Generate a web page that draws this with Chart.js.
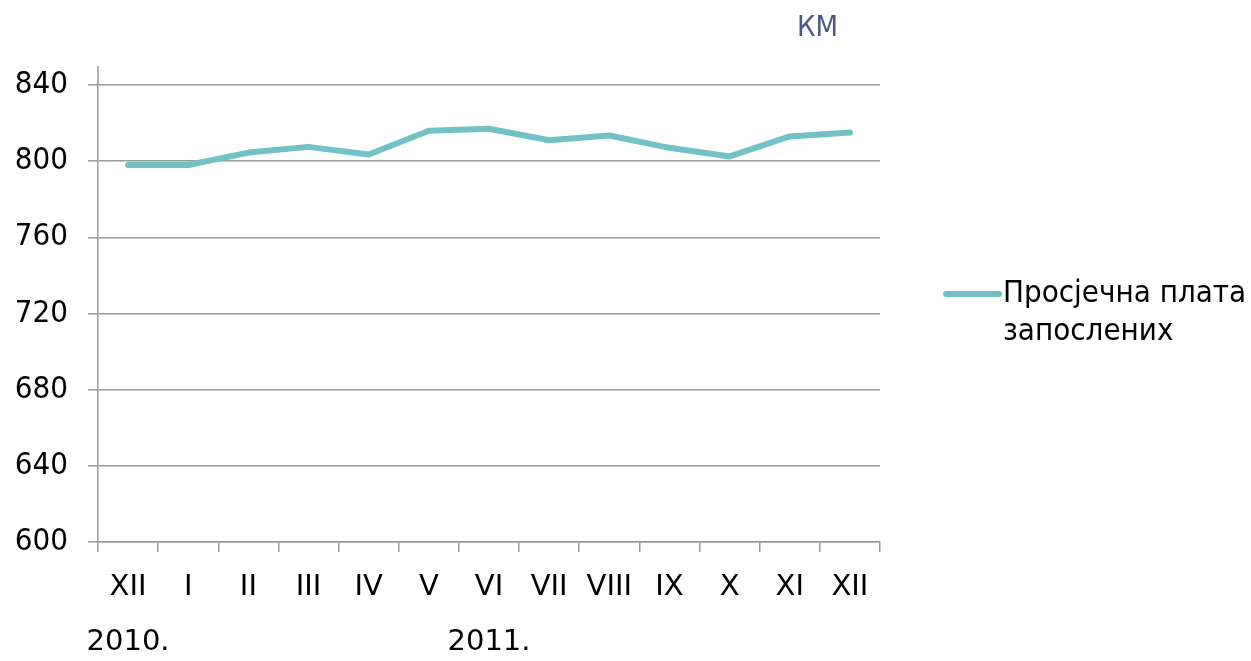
<!DOCTYPE html>
<html>
<head>
<meta charset="utf-8">
<title>Просјечна плата запослених</title>
<script src="https://cdn.jsdelivr.net/npm/chart.js@4.4.1/dist/chart.umd.min.js"></script>
<style>
    html, body { margin: 0; padding: 0; background: #fff; }
    #wrap { width: 1251px; height: 661px; }
</style>
</head>
<body>
<div id="wrap"><canvas id="wageChart" width="1251" height="661"></canvas></div>
<script>
// Data
const months = ['XII', 'I', 'II', 'III', 'IV', 'V', 'VI', 'VII', 'VIII', 'IX', 'X', 'XI', 'XII'];
const years = ['2010.', '', '', '', '', '', '2011.', '', '', '', '', '', ''];
const wages = [798, 798, 804.5, 807.5, 803.5, 816, 817, 811, 813.5, 807, 802.5, 813, 815];
const yTicks = [600, 640, 680, 720, 760, 800, 840];
const seriesName = ['Просјечна плата', 'запослених'];
const unitLabel = 'КМ';

// Styles
const FONT = "'DejaVu Sans Condensed', 'Liberation Sans', sans-serif";
const FONT_WIDE = "'DejaVu Sans', 'Liberation Sans', sans-serif";
const LINE_COLOR = '#72c1c6';
const GRID_COLOR = '#999999';

// Multi-level category labels (month + year below)
const labels = months.map((m, i) => years[i] ? [m, years[i]] : m);

// Legend + unit label + Excel-style axis overhang
const extrasPlugin = {
    id: 'extras',
    afterDraw(chart) {
        const { ctx, chartArea } = chart;
        ctx.save();

        // y axis line runs a bit above the top gridline
        ctx.strokeStyle = GRID_COLOR;
        ctx.lineWidth = 1.5;
        ctx.beginPath();
        ctx.moveTo(chartArea.left, chartArea.top);
        ctx.lineTo(chartArea.left, chartArea.top - 19);
        ctx.stroke();

        // unit label
        ctx.fillStyle = '#4a5a82';
        ctx.font = `29px ${FONT}`;
        ctx.textAlign = 'right';
        ctx.textBaseline = 'middle';
        ctx.fillText(unitLabel, chartArea.right - 42, 28);

        // legend
        const lx = chartArea.right + 66;
        const ly = 294;
        ctx.strokeStyle = LINE_COLOR;
        ctx.lineWidth = 6;
        ctx.lineCap = 'round';
        ctx.beginPath();
        ctx.moveTo(lx, ly);
        ctx.lineTo(lx + 53, ly);
        ctx.stroke();

        ctx.fillStyle = '#000';
        ctx.font = `31px ${FONT}`;
        ctx.textAlign = 'left';
        seriesName.forEach((line, i) => ctx.fillText(line, lx + 57, ly + i * 38));

        ctx.restore();
    }
};

function initWageChart() {
    const ctx = document.getElementById('wageChart').getContext('2d');

    new Chart(ctx, {
        type: 'line',
        data: {
            labels: labels,
            datasets: [{
                label: seriesName.join(' '),
                data: wages,
                borderColor: LINE_COLOR,
                backgroundColor: LINE_COLOR,
                borderWidth: 6,
                borderCapStyle: 'round',
                borderJoinStyle: 'round',
                pointRadius: 0,
                tension: 0,
                fill: false
            }]
        },
        options: {
            responsive: false,
            animation: false,
            layout: {
                padding: { left: 0, top: 85, right: 371, bottom: 0 }
            },
            plugins: {
                legend: { display: false },
                tooltip: { enabled: false }
            },
            scales: {
                x: {
                    offset: true,
                    grid: {
                        offset: true,
                        drawOnChartArea: false,
                        drawTicks: true,
                        tickLength: 10,
                        color: GRID_COLOR,
                        lineWidth: 1.5
                    },
                    border: { color: GRID_COLOR, width: 1.5 },
                    ticks: {
                        color: '#000',
                        font: { family: FONT_WIDE, size: 29, lineHeight: 1.9 },
                        padding: 8,
                        maxRotation: 0,
                        autoSkip: false
                    },
                    afterFit(scale) { scale.height = 119; }
                },
                y: {
                    min: yTicks[0],
                    max: yTicks[yTicks.length - 1],
                    afterBuildTicks(scale) {
                        scale.ticks = yTicks.map(v => ({ value: v }));
                    },
                    grid: {
                        color: GRID_COLOR,
                        lineWidth: 1.5,
                        tickLength: 10
                    },
                    border: { color: GRID_COLOR, width: 1.5 },
                    ticks: {
                        color: '#000',
                        font: { family: FONT, size: 31 },
                        padding: 20
                    },
                    afterFit(scale) { scale.width = 98; }
                }
            }
        },
        plugins: [extrasPlugin]
    });
}

initWageChart();
</script>
</body>
</html>
